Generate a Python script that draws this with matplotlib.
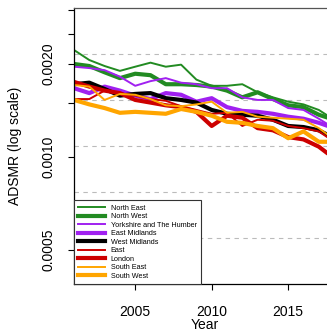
import matplotlib
matplotlib.use("Agg")
import matplotlib.pyplot as plt
from matplotlib.ticker import NullLocator, FixedLocator, FixedFormatter
from matplotlib.lines import Line2D

plt.rcParams['font.family'] = ['Liberation Sans', 'DejaVu Sans']

years = list(range(2001, 2019))

regions = ["North East", "North West", "Yorkshire and The Humber", "East Midlands",
           "West Midlands", "East", "London", "South East", "South West"]

north_east = [0.00222, 0.00206, 0.00197, 0.00190, 0.00196, 0.00202, 0.00196, 0.00199, 0.00178,
              0.00170, 0.00170, 0.00172, 0.00162, 0.00156, 0.00151, 0.00148, 0.00142, 0.00132]
north_west = [0.00200, 0.00197, 0.00188, 0.00180, 0.00186, 0.00184, 0.00172, 0.00172, 0.00171,
              0.00169, 0.00164, 0.00156, 0.00162, 0.00154, 0.00147, 0.00145, 0.00137, 0.00132]
yorkshire = [0.00196, 0.00194, 0.00191, 0.00182, 0.00170, 0.00176, 0.00180, 0.00174, 0.00172,
             0.00167, 0.00167, 0.00156, 0.00153, 0.00153, 0.00144, 0.00142, 0.00133, 0.00124]
east_midlands = [0.00167, 0.00161, 0.00169, 0.00164, 0.00158, 0.00154, 0.00161, 0.00159, 0.00151,
                 0.00155, 0.00145, 0.00141, 0.00140, 0.00138, 0.00135, 0.00133, 0.00129, 0.00124]
west_midlands = [0.00172, 0.00174, 0.00166, 0.00158, 0.00160, 0.00161, 0.00155, 0.00153, 0.00150,
                 0.00142, 0.00138, 0.00137, 0.00136, 0.00132, 0.00126, 0.00125, 0.00122, 0.00115]
east = [0.00154, 0.00154, 0.00164, 0.00161, 0.00158, 0.00154, 0.00152, 0.00146, 0.00142,
        0.00138, 0.00139, 0.00126, 0.00132, 0.00131, 0.00126, 0.00124, 0.00121, 0.00112]
london = [0.00175, 0.00169, 0.00164, 0.00161, 0.00153, 0.00150, 0.00147, 0.00145, 0.00140,
          0.00126, 0.00136, 0.00134, 0.00124, 0.00122, 0.00116, 0.00114, 0.00108, 0.00099]
south_east = [0.00171, 0.00169, 0.00153, 0.00160, 0.00159, 0.00154, 0.00147, 0.00146, 0.00148,
              0.00151, 0.00139, 0.00140, 0.00135, 0.00134, 0.00133, 0.00132, 0.00124, 0.00114]
south_west = [0.00153, 0.00148, 0.00144, 0.00139, 0.00140, 0.00139, 0.00138, 0.00143, 0.00140,
              0.00136, 0.00130, 0.00129, 0.00126, 0.00124, 0.00115, 0.00121, 0.00112, 0.00112]

series = [north_east, north_west, yorkshire, east_midlands, west_midlands,
          east, london, south_east, south_west]
colors = ["#228B22", "#228B22", "#A020F0", "#A020F0", "#000000",
          "#CD0000", "#CD0000", "#FFA500", "#FFA500"]
widths = [1.4, 3.0, 1.4, 3.0, 3.0, 1.4, 3.0, 1.4, 3.0]

y_ticks = [0.0005, 0.0010, 0.0015, 0.0020, 0.0025, 0.0030]
y_tick_labels = ["0.0005", "0.0010", "", "0.0020", "", ""]
x_ticks = [2005, 2010, 2015]
grid_levels = [0.00215, 0.00153, 0.001085, 0.00077, 0.000547]

fig = plt.figure(figsize=(3.27, 3.33), dpi=100)
W, H = 327, 333
left_px, right_px, top_px, bottom_px = 74, 336, 8, 284
ax = fig.add_axes([left_px / W, (H - bottom_px) / H,
                   (right_px - left_px) / W, (bottom_px - top_px) / H])

for lvl in grid_levels:
    ax.axhline(lvl, color="#BBBBBB", lw=0.8, ls=(0, (4, 4)), zorder=1)

for vals, c, lw in zip(series, colors, widths):
    ax.plot(years, vals, color=c, lw=lw, solid_joinstyle="round",
            solid_capstyle="butt", zorder=2)

ax.set_yscale("log")
ax.set_xlim(2001, 2001 + (right_px - left_px) / 15.3)
ax.set_ylim(0.000388, 0.003036)

ax.yaxis.set_major_locator(FixedLocator(y_ticks))
ax.yaxis.set_major_formatter(FixedFormatter(y_tick_labels))
ax.yaxis.set_minor_locator(NullLocator())
ax.set_xticks(x_ticks)
ax.set_xticklabels([str(t) for t in x_ticks])

ax.tick_params(axis="both", direction="out", length=4.3, width=0.8, labelsize=10)
ax.tick_params(axis="x", pad=11)
ax.tick_params(axis="y", pad=9)
for lab in ax.get_yticklabels():
    lab.set_rotation(90)
    lab.set_va("center")

for s in ["left", "bottom"]:
    ax.spines[s].set_color("black")
    ax.spines[s].set_linewidth(0.9)
ax.spines["top"].set_color("#555555")
ax.spines["top"].set_linewidth(0.9)
ax.spines["right"].set_visible(False)

ax.set_ylabel("ADSMR (log scale)", fontsize=10, va="center")
ax.yaxis.set_label_coords((15 - left_px) / (right_px - left_px), 0.5)
ax.set_xlabel("Year", fontsize=10, va="center")
ax.xaxis.set_label_coords(0.5, (bottom_px - 325) / (bottom_px - top_px))

handles = [Line2D([0], [0], color=c, lw=lw) for c, lw in zip(colors, widths)]
leg = ax.legend(handles, regions, loc="lower left", bbox_to_anchor=(0, 0),
                borderaxespad=0, fontsize=5.2, frameon=True, fancybox=False,
                edgecolor="#333333", framealpha=1, handlelength=3.7,
                handletextpad=0.8, labelspacing=0.2, borderpad=0.6)
leg.get_frame().set_linewidth(0.8)
leg.set_zorder(5)

fig.savefig("out.png", dpi=100)
